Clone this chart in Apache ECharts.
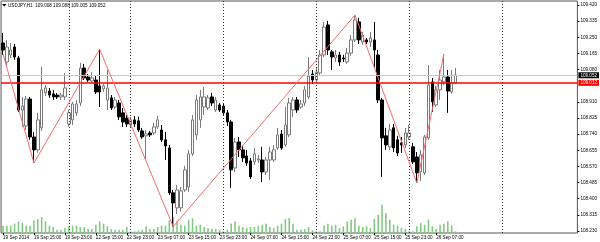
<!DOCTYPE html>
<html><head><meta charset="utf-8">
<script src="https://cdn.jsdelivr.net/npm/echarts@6/dist/echarts.min.js"></script>
<style>html,body{margin:0;padding:0;background:#fff}#c{width:600px;height:242px}</style>
</head><body><div id="c"></div>
<script>
const symbolName = 'USDJPY,H1';
const lastBar = [109.008, 109.088, 109.005, 109.052];
const tickLabels = ['19 Sep 2014','19 Sep 15:00','19 Sep 23:00','22 Sep 15:00','22 Sep 23:00','23 Sep 07:00','23 Sep 15:00','23 Sep 23:00','24 Sep 07:00','24 Sep 15:00','24 Sep 23:00','25 Sep 07:00','25 Sep 15:00','25 Sep 23:00','26 Sep 07:00'];
const tickStep = 8;
const totalSlots = 149;
const open = [109.220,109.120,109.157,109.199,109.141,108.867,108.783,108.925,108.725,108.657,
108.773,108.957,108.967,108.952,108.946,108.936,108.936,108.794,108.815,108.852,
108.904,109.088,109.041,109.020,109.025,108.994,108.978,108.920,108.931,108.883,
108.904,108.852,108.825,108.788,108.815,108.810,108.757,108.731,108.746,108.746,
108.778,108.762,108.710,108.667,108.431,108.352,108.352,108.446,108.462,108.636,
108.736,108.815,108.883,108.878,108.936,108.867,108.894,108.888,108.852,108.804,
108.562,108.699,108.657,108.625,108.599,108.594,108.604,108.604,108.541,108.604,
108.604,108.667,108.741,108.683,108.736,108.867,108.920,108.883,108.904,108.936,
109.057,109.025,109.062,109.157,109.315,109.173,109.141,109.157,109.141,109.120,
109.167,109.236,109.331,109.225,109.236,109.225,109.236,109.157,108.920,108.731,
108.673,108.773,108.710,108.694,108.683,108.725,108.673,108.620,108.541,108.536,
108.720,109.015,108.894,108.973,109.015,109.041,108.962,109.008];
const high = [109.273,109.236,109.220,109.215,109.152,108.936,108.941,108.936,108.752,108.852,
109.094,108.999,108.983,108.973,108.957,108.957,109.062,108.867,108.910,108.920,
109.115,109.110,109.057,109.067,109.046,109.187,109.004,109.078,108.946,108.936,
108.920,108.878,108.841,108.831,108.836,108.831,108.773,108.762,108.757,108.799,
108.836,108.788,108.752,108.683,108.446,108.473,108.462,108.573,108.657,108.841,
108.946,108.973,108.988,108.946,108.957,108.936,108.904,108.904,108.867,108.815,
108.720,108.725,108.678,108.657,108.615,108.667,108.631,108.673,108.620,108.673,
108.683,108.773,108.762,108.883,108.931,108.936,108.936,108.920,108.994,109.146,
109.078,109.088,109.183,109.331,109.336,109.183,109.183,109.173,109.157,109.194,
109.262,109.367,109.352,109.278,109.246,109.278,109.331,109.183,108.931,108.773,
108.794,108.794,108.731,108.725,108.773,108.788,108.694,108.646,108.657,108.736,
109.104,109.036,108.994,109.078,109.162,109.078,109.078,109.088];
const low = [109.157,109.104,109.141,109.131,108.857,108.778,108.762,108.710,108.588,108.641,
108.757,108.941,108.931,108.920,108.925,108.920,108.920,108.778,108.788,108.836,
108.888,109.025,109.015,109.010,108.952,108.883,108.962,108.867,108.867,108.873,
108.815,108.778,108.778,108.773,108.778,108.752,108.715,108.604,108.725,108.736,
108.767,108.699,108.604,108.420,108.253,108.320,108.331,108.436,108.436,108.625,
108.710,108.773,108.841,108.867,108.888,108.857,108.857,108.841,108.783,108.457,
108.541,108.620,108.594,108.573,108.504,108.578,108.588,108.488,108.525,108.499,
108.594,108.657,108.657,108.673,108.725,108.831,108.852,108.873,108.888,108.925,
109.004,109.015,109.052,109.146,109.157,109.078,109.120,109.099,109.120,109.110,
109.152,109.225,109.215,109.209,109.215,109.199,109.088,108.904,108.515,108.657,
108.657,108.646,108.625,108.641,108.667,108.710,108.583,108.483,108.494,108.525,
108.710,108.857,108.883,108.920,108.999,108.852,108.952,109.005];
const close = [109.183,109.199,109.183,109.146,108.867,108.888,108.925,108.725,108.657,108.815,
108.973,108.983,108.946,108.936,108.936,108.946,108.983,108.852,108.899,108.899,
109.088,109.036,109.025,109.036,108.962,108.962,108.994,108.983,108.878,108.920,
108.831,108.804,108.794,108.815,108.794,108.762,108.725,108.741,108.736,108.778,
108.815,108.710,108.678,108.431,108.378,108.446,108.441,108.552,108.636,108.815,
108.920,108.936,108.936,108.931,108.904,108.920,108.867,108.852,108.804,108.552,
108.699,108.657,108.615,108.588,108.515,108.636,108.610,108.541,108.604,108.646,
108.657,108.736,108.667,108.788,108.904,108.920,108.867,108.899,108.973,109.046,
109.025,109.067,109.157,109.304,109.183,109.146,109.157,109.120,109.136,109.167,
109.236,109.341,109.236,109.262,109.225,109.246,109.183,108.920,108.720,108.683,
108.762,108.667,108.641,108.683,108.746,108.746,108.594,108.536,108.631,108.725,
108.999,108.910,108.973,109.025,109.041,108.967,109.010,109.052];
const volume = [1100,1100,1100,1400,1750,1500,1100,1100,1900,2100,
2400,1750,1100,900,500,500,750,1000,1100,1100,
900,900,600,600,1250,1750,1400,1000,600,500,
500,500,900,250,250,400,500,1000,600,600,
900,1100,1100,1900,2400,1750,1250,1100,2000,2200,
1100,1250,900,750,600,600,500,250,500,1400,
1750,1100,900,750,900,900,1100,1250,1400,900,
750,1100,1400,2100,2250,1400,500,500,600,900,
400,250,250,1100,1400,1100,1250,750,1000,1750,
2000,2250,1100,900,1000,750,2100,2750,4250,3000,
2000,1250,1100,750,600,250,250,1000,1500,1250,
2000,1000,600,1250,1400,1750,1100,250];
const zigzagBars = [0, 8, 25, 44, 91, 107, 114];
const zigzagValues = [109.162, 108.588, 109.187, 108.253, 109.367, 108.483, 109.162];
const daySeparatorBars = [17, 33, 57, 81, 105, 129];
const priceTicks = [109.420,109.335,109.250,109.165,109.080,108.910,108.825,108.740,108.655,108.570,108.485,108.400,108.315,108.230];
const bidPrice = 109.052;
const levelPrice = 109.012;
const priceMin = 108.2195, priceMax = 109.441;
const volumeMax = 34800;

const FONT = 'Liberation Sans';
const FS = 4.6;
const cats = [];
for (let i = 0; i < totalSlots; i++) cats.push('b' + i);
const labelAt = i => (i % tickStep === 0 && i / tickStep < tickLabels.length) ? tickLabels[i / tickStep] : '';
const showTick = i => i % tickStep === 0 && i / tickStep < tickLabels.length;
const candles = open.map((o, i) => [o, close[i], low[i], high[i]]);
const zig = new Array(open.length).fill(null);
zigzagBars.forEach((b, k) => { zig[b] = zigzagValues[k]; });
const priceBox = (v, bg) => ({show: true, position: 'end', distance: 1, formatter: v.toFixed(3), color: '#fff',
  backgroundColor: bg, padding: [1, 2, 0, 2], fontSize: FS, fontFamily: FONT});

const chart = echarts.init(document.getElementById('c'), null, {renderer: 'canvas'});
chart.setOption({
  animation: false,
  backgroundColor: '#fff',
  grid: {left: 0, right: 22, top: 1, bottom: 9, show: true, borderColor: '#555', borderWidth: 1, backgroundColor: 'transparent'},
  xAxis: {
    type: 'category', data: cats, boundaryGap: true,
    axisLine: {show: false},
    axisTick: {show: true, alignWithLabel: true, interval: (i) => showTick(i), length: 2, lineStyle: {color: '#000'}},
    axisLabel: {interval: (i) => showTick(i), formatter: (v, i) => labelAt(i), align: 'left', margin: 2,
      fontSize: FS, fontFamily: FONT, color: '#000'},
    splitLine: {show: false}
  },
  yAxis: [{
    type: 'value', position: 'right', min: priceMin, max: priceMax, scale: true,
    axisLine: {show: false},
    splitLine: {show: false},
    axisTick: {show: true, customValues: priceTicks, length: 2, lineStyle: {color: '#000'}},
    axisLabel: {customValues: priceTicks, formatter: v => v.toFixed(3), margin: 3,
      fontSize: FS, fontFamily: FONT, color: '#000'}
  }, {
    type: 'value', min: 0, max: volumeMax, show: false, splitLine: {show: false}
  }],
  graphic: [
    {type: 'polygon', shape: {points: [[2, 4], [6.5, 4], [4.25, 6.5]]}, style: {fill: '#000'}},
    {type: 'text', left: 8, top: 3.2, style: {text: symbolName + '  ' + lastBar.map(v => v.toFixed(3)).join(' '),
      fontSize: FS, fontFamily: FONT, fill: '#000'}}
  ],
  series: [
    {type: 'bar', name: 'Volume', xAxisIndex: 0, yAxisIndex: 1, data: volume, barWidth: 1.6,
      itemStyle: {color: '#84c984'}, z: 1, silent: true},
    {type: 'candlestick', name: 'USDJPY', data: candles, barWidth: 3, z: 3,
      itemStyle: {color: '#ffffff', color0: '#000000', borderColor: '#7a7a7a', borderColor0: '#000000', borderWidth: 1},
      markLine: {
        silent: true, symbol: ['none', 'none'], animation: false,
        label: {show: false},
        lineStyle: {color: '#333', type: [1, 2], width: 1},
        data: daySeparatorBars.map(b => ({xAxis: b}))
      }},
    {type: 'line', name: 'Bid', data: [], z: 4, silent: true, color: '#c8c8c8',
      markLine: {silent: true, symbol: ['none', 'none'], animation: false,
        lineStyle: {color: '#c8c8c8', type: 'solid', width: 1},
        label: priceBox(bidPrice, '#000'),
        data: [{yAxis: bidPrice}]}},
    {type: 'line', name: 'Level', data: [], z: 5, silent: true, color: '#ff0000',
      markLine: {silent: true, symbol: ['none', 'none'], animation: false,
        lineStyle: {color: '#ff0000', type: 'solid', width: 1.5, opacity: 1},
        label: priceBox(levelPrice, '#ff0000'),
        data: [{yAxis: levelPrice}]}},
    {type: 'line', name: 'ZigZag', data: zig, connectNulls: true, showSymbol: false, symbol: 'none', z: 6,
      lineStyle: {color: '#f26d6d', width: 1}, silent: true}
  ]
});
</script>
</body></html>
